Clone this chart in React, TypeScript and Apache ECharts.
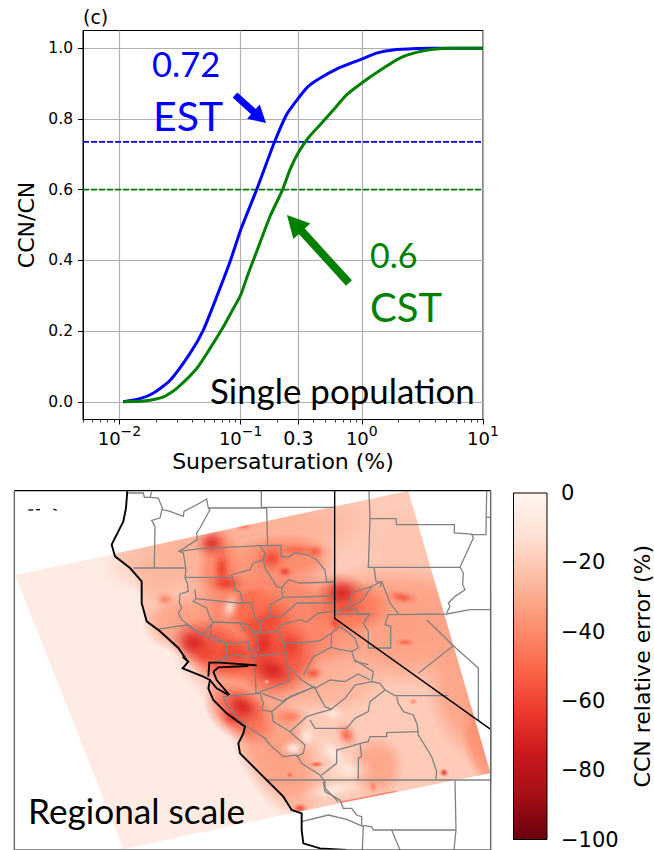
import React, { useEffect, useRef } from "react";
import * as echarts from "echarts";

// ---------- top panel data ----------
const BLUE_X = [0.0107, 0.0148, 0.0191, 0.0262, 0.0382, 0.0492, 0.0634, 0.0817, 0.1, 0.1356, 0.1884, 0.239, 0.2985, 0.361, 0.451, 0.618, 0.993, 1.32, 1.81, 2.82, 3.87, 10];
const BLUE_Y = [0, 0.009, 0.025, 0.061, 0.137, 0.203, 0.297, 0.396, 0.486, 0.6, 0.731, 0.812, 0.858, 0.892, 0.915, 0.941, 0.969, 0.986, 0.995, 0.999, 1, 1];
const GREEN_X = [0.0107, 0.0158, 0.0231, 0.0297, 0.0434, 0.0559, 0.072, 0.0843, 0.1, 0.1156, 0.1356, 0.1746, 0.222, 0.255, 0.2985, 0.361, 0.451, 0.581, 0.748, 0.993, 1.5, 2.06, 2.82, 3.87, 5.66, 10];
const GREEN_Y = [0, 0.002, 0.014, 0.038, 0.094, 0.151, 0.212, 0.255, 0.302, 0.363, 0.425, 0.524, 0.6, 0.656, 0.704, 0.746, 0.783, 0.825, 0.868, 0.901, 0.943, 0.972, 0.988, 0.997, 1, 1];
const BLUE_REF = 0.735;
const GREEN_REF = 0.6;
const X_MIN = 0.005;
const X_MAX = 10;
const X_MAJOR = [0.01, 0.1, 0.3, 1, 10];
const X_LABELS: Record<string, string> = { "0.01": "{b|10}{s|−2}", "0.1": "{b|10}{s|−1}", "0.3": "{t|0.3}", "1": "{b|10}{s|0}", "10": "{b|10}{s|1}" };
const X_MINOR = [0.005, 0.006, 0.007, 0.008, 0.009, 0.02, 0.03, 0.04, 0.05, 0.06, 0.07, 0.08, 0.09, 0.2, 0.4, 0.5, 0.6, 0.7, 0.8, 0.9, 2, 3, 4, 5, 6, 7, 8, 9];
const Y_TICKS = [0, 0.2, 0.4, 0.6, 0.8, 1];

// ---------- colour scale ----------
const REDS = ["#fff5f0", "#fee0d2", "#fcbba1", "#fc9272", "#fb6a4a", "#ef3b2c", "#cb181d", "#a50f15", "#67000d"];

// ---------- map data (map units) ----------
const MAP_X = [43, 1472];
const MAP_Y = [32, 1110];
const SWATH = [[45, 285], [1225, 33], [1472, 880], [890, 997], [370, 1108]];
const LAND = [[340, 205], [1225, 33], [1472, 880], [890, 997], [875, 990], [850, 950], [780, 880], [720, 820], [715, 790], [735, 740], [680, 700], [640, 660], [625, 625], [630, 600], [610, 590], [560, 545], [535, 504], [480, 454], [440, 424], [425, 369], [425, 304], [390, 264], [345, 229]];
const MASKS = [
  [[43, 32], [1225, 32], [45, 285], [43, 285]],
  [[1225, 32], [1472, 32], [1472, 880]],
  [[1472, 880], [1472, 1110], [370, 1110], [370, 1108], [890, 997]],
  [[43, 285], [45, 285], [370, 1108], [370, 1110], [43, 1110]],
];
// x, y, radius x, radius y, rotation, value
const BROAD = [
  [720, 190, 430, 130, 12, -30], [1210, 430, 320, 200, 0, -36], [1400, 650, 120, 210, 15, -34], [800, 450, 300, 270, 0, -48],
  [1450, 800, 60, 140, 16, -40], [830, 810, 120, 230, 25, -36], [1130, 860, 85, 95, 0, -34], [1000, 610, 160, 90, 0, -28],
  [540, 430, 115, 90, 0, -34], [480, 300, 80, 80, 0, -26], [1250, 190, 190, 120, 0, -22],
  [860, 230, 160, 70, 0, -42], [660, 260, 70, 120, 0, -42], [1050, 380, 130, 85, 0, -48], [720, 700, 125, 80, -35, -52],
  [650, 510, 135, 80, -30, -56], [830, 530, 125, 125, 0, -58], [780, 400, 120, 80, -20, -50],
];
const SPOTS = [
  [635, 190, 55, 50, 0, -68], [730, 135, 30, 20, 0, -52], [665, 265, 32, 70, 0, -62], [680, 310, 60, 34, 0, -64],
  [815, 235, 46, 46, 0, -60], [855, 275, 26, 18, 0, -62], [890, 210, 66, 20, 0, -52], [945, 215, 34, 24, 0, -54],
  [1025, 340, 76, 64, 0, -72], [1040, 385, 60, 28, 0, -58], [1005, 430, 22, 28, 0, -58], [1205, 352, 54, 22, -10, -56],
  [1215, 487, 32, 12, 0, -54], [495, 358, 32, 24, 0, -44], [580, 490, 72, 58, -20, -72], [620, 520, 54, 38, 0, -60],
  [700, 520, 80, 52, 0, -60], [790, 490, 52, 80, 0, -68], [870, 500, 46, 54, 0, -62], [815, 570, 74, 46, -20, -72],
  [690, 560, 92, 30, 0, -54], [940, 580, 32, 24, 15, -58], [725, 680, 72, 52, -25, -72], [700, 715, 48, 30, -20, -64],
  [760, 440, 54, 54, 0, -58], [810, 420, 64, 52, 0, -60], [730, 390, 40, 24, 0, -50], [760, 345, 32, 22, 0, -50],
  [870, 710, 60, 32, 0, -46], [1040, 765, 32, 44, 30, -52], [950, 853, 26, 11, 0, -56], [870, 885, 10, 10, 0, -56],
  [1332, 878, 16, 14, -30, -70], [1240, 665, 14, 10, 0, -44], [900, 985, 26, 18, 0, -62], [1120, 920, 14, 20, 0, -44],
];
const PALE_SPOTS = [
  [690, 380, 30, 50, -15, -10], [880, 805, 40, 30, 0, -2], [920, 770, 34, 40, 0, -4], [1000, 820, 70, 36, -50, -4],
  [1045, 870, 84, 46, 0, -7], [1000, 930, 110, 30, 10, -5], [1000, 700, 40, 26, 0, -8], [800, 605, 10, 8, 0, -20],
];
const EDGE_STREAK = [[1020, 967], [1190, 934]];
const FRAGMENTS = [
  [[85, 90], [100, 90]],
  [[108, 89], [120, 89]],
  [[160, 87], [170, 91]],
];
const COAST = [
  [[382, 32], [378, 84], [370, 124], [355, 154], [335, 194], [345, 229], [390, 264], [425, 304], [425, 369], [440, 424], [480, 454], [535, 504], [560, 540], [548, 530], [565, 545], [548, 565], [610, 590], [630, 600], [625, 625], [640, 660], [680, 700], [735, 740], [730, 760], [715, 790], [720, 820], [780, 880], [850, 950], [875, 990], [905, 1000], [905, 1050], [910, 1090], [960, 1105], [1040, 1110]],
  [[625, 590], [628, 548], [660, 548], [770, 556]],
  [[640, 575], [655, 562], [745, 558]],
  [[640, 575], [650, 600], [688, 645]],
  [[630, 600], [650, 625], [685, 645]],
];
const STATE_LINE = [[1004, 32], [1004, 415], [1472, 748]];
const COUNTIES = [
  [[385, 39], [430, 39], [433, 52], [450, 52], [455, 36]],
  [[450, 52], [475, 54], [487, 84], [480, 114], [455, 121], [465, 139], [463, 264]],
  [[487, 89], [510, 94], [550, 109], [552, 94], [600, 69], [620, 57], [625, 84], [630, 89], [600, 144], [590, 159], [592, 179], [537, 214], [550, 219], [558, 269], [555, 294], [562, 309], [565, 334], [540, 342], [538, 369], [545, 384], [535, 399], [545, 419], [565, 434], [595, 459], [605, 464], [635, 432], [640, 426], [720, 429], [735, 454]],
  [[400, 264], [555, 264]],
  [[625, 84], [800, 84], [803, 196]],
  [[784, 32], [784, 82], [1003, 82]],
  [[537, 214], [600, 206], [675, 202], [780, 197], [843, 196], [843, 229], [865, 232], [885, 218], [925, 225], [950, 240], [975, 270], [980, 305], [1003, 308]],
  [[780, 197], [795, 219], [790, 239], [760, 249], [750, 269], [695, 284], [700, 299], [705, 329], [720, 336], [730, 369], [715, 369], [588, 356], [585, 329]],
  [[790, 239], [795, 264], [830, 319], [845, 324], [848, 350]],
  [[558, 292], [695, 292]],
  [[715, 369], [755, 369], [765, 414], [780, 424], [780, 454], [760, 456], [740, 434], [720, 429]],
  [[588, 356], [580, 364], [620, 384], [630, 414], [640, 427]],
  [[810, 374], [810, 409], [780, 424]],
  [[810, 374], [850, 352], [1003, 348]],
  [[845, 324], [865, 299], [900, 309], [1003, 306]],
  [[810, 409], [845, 409], [890, 369], [1005, 369]],
  [[835, 454], [845, 434], [900, 419], [920, 426], [955, 399], [1005, 394]],
  [[760, 459], [835, 454], [850, 489], [900, 489], [960, 482], [995, 459], [1020, 439]],
  [[470, 448], [560, 435], [600, 460], [640, 480], [680, 490], [680, 520], [670, 540], [625, 548]],
  [[680, 490], [745, 485], [745, 510], [775, 510], [770, 480], [760, 459]],
  [[635, 432], [632, 465], [680, 490]],
  [[670, 540], [700, 525], [745, 530], [850, 520]],
  [[767, 510], [765, 556], [768, 640], [790, 632], [865, 605], [860, 520], [850, 489]],
  [[860, 555], [905, 600], [945, 625], [975, 680], [995, 688]],
  [[670, 650], [780, 640], [790, 670], [785, 690], [815, 695], [820, 725], [870, 755], [915, 795], [910, 820], [890, 830]],
  [[672, 655], [680, 675], [735, 735], [795, 775], [810, 795], [850, 830], [890, 825], [905, 850], [960, 885], [975, 905], [975, 925], [1015, 965]],
  [[785, 640], [850, 665], [855, 658], [945, 620]],
  [[815, 695], [870, 650], [945, 620]],
  [[870, 755], [920, 710], [950, 700], [995, 688]],
  [[930, 720], [945, 745], [990, 745], [1040, 745], [1065, 715], [1105, 695], [1110, 665], [1155, 630]],
  [[990, 690], [1035, 655], [1065, 615], [1115, 605]],
  [[945, 625], [990, 600], [1035, 605], [1075, 582], [1110, 600]],
  [[1065, 540], [1120, 575], [1115, 605], [1140, 610], [1155, 630], [1185, 647], [1345, 647]],
  [[1190, 650], [1195, 670], [1210, 695], [1240, 705], [1252, 735], [1255, 765], [1280, 805], [1295, 830], [1310, 875], [1308, 898]],
  [[1255, 755], [1160, 758], [1160, 770], [1110, 770], [1105, 785], [1080, 790], [1050, 800], [1010, 810], [1010, 850], [965, 885]],
  [[1080, 790], [1085, 830], [1075, 835], [1075, 900]],
  [[800, 900], [1472, 900]],
  [[1365, 902], [1368, 1050], [1362, 1110]],
  [[1368, 1050], [1175, 1050], [1200, 1110]],
  [[1175, 1050], [1120, 1050], [1115, 1040], [1090, 1037], [1087, 1110]],
  [[970, 905], [975, 935], [1020, 960], [1030, 985], [1055, 985], [1070, 1005], [1085, 1010], [1085, 1035]],
  [[905, 1025], [985, 1005], [1040, 1018], [1090, 1040]],
  [[1107, 34], [1110, 116], [1188, 116], [1190, 134], [1363, 134], [1363, 159], [1415, 162], [1420, 174], [1380, 262], [1390, 279], [1388, 314], [1395, 329], [1365, 349], [1345, 369], [1350, 379], [1340, 399]],
  [[1460, 34], [1458, 164], [1415, 164]],
  [[1460, 112], [1470, 112]],
  [[1110, 116], [1105, 262], [1380, 262]],
  [[1122, 262], [1128, 304], [1145, 309], [1140, 322]],
  [[1145, 304], [1170, 369], [1195, 401]],
  [[1145, 304], [1115, 319], [1055, 339], [1050, 369]],
  [[1115, 319], [1085, 364], [1050, 379], [1005, 394]],
  [[1045, 386], [1070, 386], [1072, 402], [1110, 402], [1090, 429], [1105, 454], [1105, 504], [1172, 504], [1172, 439], [1155, 434], [1165, 404], [1340, 402], [1410, 389], [1473, 389]],
  [[1005, 402], [1110, 402]],
  [[1280, 419], [1360, 497], [1435, 564], [1435, 720]],
  [[1360, 497], [1255, 580]],
  [[995, 459], [993, 502], [1020, 509], [1055, 514], [1065, 544], [1105, 554]],
  [[1020, 439], [1065, 474], [1075, 504], [1055, 514]],
  [[910, 585], [940, 530], [993, 502]],
];

// ---------- colour bar ----------
const CB_MIN = -100;
const CB_MAX = 0;
const CB_STEP = 20;

const hexToRgb = (h: string) => [1, 3, 5].map((i) => parseInt(h.slice(i, i + 2), 16));
const redsAt = (v: number) => {
  const t = Math.min(1, Math.max(0, -v / 100)) * (REDS.length - 1);
  const i = Math.min(REDS.length - 2, Math.floor(t));
  const a = hexToRgb(REDS[i]);
  const b = hexToRgb(REDS[i + 1]);
  return a.map((c, k) => Math.round(c + (b[k] - c) * (t - i)));
};

const polygonSeries = (points: number[][], fill: string, z: number) => ({
  type: "custom",
  xAxisIndex: 2,
  yAxisIndex: 1,
  z,
  clip: true,
  silent: true,
  data: [points[0]],
  renderItem: (_p: any, api: any) => ({
    type: "polygon",
    shape: { points: points.map((q) => api.coord(q)) },
    style: { fill },
  }),
});

// soft ellipses: alpha profile [offset, alpha]
const PLATEAU = [[0, 0.85], [0.55, 0.7], [0.8, 0.3], [1, 0]];
const SOFT = [[0, 0.9], [0.3, 0.65], [0.6, 0.25], [1, 0]];
const blobSeries = (rows: number[][], profile: number[][], z: number) => ({
  type: "custom",
  xAxisIndex: 2,
  yAxisIndex: 1,
  z,
  clip: true,
  silent: true,
  data: rows,
  dimensions: ["x", "y", "rx", "ry", "rot", "val"],
  encode: { x: 0, y: 1 },
  renderItem: (_p: any, api: any) => {
    const c = api.coord([api.value(0), api.value(1)]);
    const s = api.size([api.value(2), api.value(3)]);
    const [r, g, b] = redsAt(api.value(5));
    return {
      type: "circle",
      x: c[0],
      y: c[1],
      scaleX: s[0],
      scaleY: s[1],
      rotation: (api.value(4) * Math.PI) / 180,
      shape: { cx: 0, cy: 0, r: 1 },
      style: {
        fill: {
          type: "radial", x: 0.5, y: 0.5, r: 0.5,
          colorStops: profile.map(([offset, alpha]) => ({ offset, color: `rgba(${r},${g},${b},${alpha})` })),
        },
      },
    };
  },
});

const arrow = (tail: number[], tip: number[], tw: number, hw: number, hl: number) => {
  const dx = tip[0] - tail[0];
  const dy = tip[1] - tail[1];
  const L = Math.hypot(dx, dy);
  const ux = dx / L, uy = dy / L, nx = -uy, ny = ux;
  const bx = tip[0] - ux * hl, by = tip[1] - uy * hl;
  return [
    [tail[0] + (nx * tw) / 2, tail[1] + (ny * tw) / 2],
    [bx + (nx * tw) / 2, by + (ny * tw) / 2],
    [bx + (nx * hw) / 2, by + (ny * hw) / 2],
    tip,
    [bx - (nx * hw) / 2, by - (ny * hw) / 2],
    [bx - (nx * tw) / 2, by - (ny * tw) / 2],
    [tail[0] - (nx * tw) / 2, tail[1] - (ny * tw) / 2],
  ];
};

const DJ = "DejaVu Sans";
const LATO = "Lato";
const note = (text: string, x: number, y: number, size: number, fill: string) => ({
  type: "text",
  x,
  y,
  z: 100,
  silent: true,
  style: { text, fill, fontFamily: LATO, fontSize: size, textAlign: "left", textVerticalAlign: "middle" },
});

export default function App() {
  const ref = useRef<HTMLDivElement>(null);
  useEffect(() => {
    document.body.style.margin = "0";
    const chart = echarts.init(ref.current!, undefined, { renderer: "svg" });
    const lineSeries = (xs: number[], ys: number[], color: string) => ({
      type: "line",
      xAxisIndex: 0,
      yAxisIndex: 0,
      data: xs.map((x, i) => [x, ys[i]]),
      showSymbol: false,
      smooth: 0.2,
      lineStyle: { color, width: 3 },
      z: 5,
    });
    const refSeries = (y: number, color: string) => ({
      type: "line",
      xAxisIndex: 0,
      yAxisIndex: 0,
      data: [[X_MIN, y], [X_MAX, y]],
      showSymbol: false,
      lineStyle: { color, width: 1.8, type: [6, 2] },
      z: 4,
    });
    const linesSeries = (polys: number[][][], color: string, width: number, z: number, clip = true) => ({
      type: "lines",
      coordinateSystem: "cartesian2d",
      xAxisIndex: 2,
      yAxisIndex: 1,
      polyline: true,
      clip,
      silent: true,
      z,
      data: polys.map((coords) => ({ coords })),
      lineStyle: { color, width, opacity: 1, curveness: 0 },
    });
    chart.setOption({
      animation: false,
      backgroundColor: "#fff",
      textStyle: { fontFamily: DJ },
      grid: [
        { left: 83, top: 30.5, width: 400, height: 389, show: true, borderColor: "#000", borderWidth: 1, backgroundColor: "transparent", containLabel: false },
        { left: 14.33, top: 490.67, width: 476.33, height: 359.33, containLabel: false },
        { left: 513.5, top: 493, width: 38, height: 351, containLabel: false },
      ],
      xAxis: [
        {
          type: "log", gridIndex: 0, min: X_MIN, max: X_MAX, logBase: 10,
          name: "Supersaturation (%)", nameLocation: "middle", nameGap: 31,
          nameTextStyle: { fontSize: 22, color: "#000", fontFamily: DJ },
          axisLine: { show: true, onZero: false, lineStyle: { color: "#000" } },
          axisTick: { show: true, length: 5, customValues: X_MAJOR, lineStyle: { color: "#000" } },
          axisLabel: {
            show: true, color: "#000", fontFamily: DJ, margin: 4, hideOverlap: false, showMinLabel: true, showMaxLabel: true,
            customValues: X_MAJOR,
            formatter: (v: number) => X_LABELS[String(+(+v).toPrecision(3))] ?? "",
            rich: {
              b: { fontSize: 18, lineHeight: 24, verticalAlign: "bottom", fontFamily: DJ, color: "#000" },
              s: { fontSize: 14, lineHeight: 24, verticalAlign: "top", fontFamily: DJ, color: "#000" },
              t: { fontSize: 19, lineHeight: 24, verticalAlign: "bottom", fontFamily: DJ, color: "#000" },
            },
          },
          splitLine: { show: true, lineStyle: { color: "#b0b0b0", width: 1.2 } },
        },
        {
          type: "log", gridIndex: 0, min: X_MIN, max: X_MAX, logBase: 10, position: "bottom",
          axisLine: { show: false, onZero: false },
          axisTick: { show: true, length: 3, customValues: X_MINOR, lineStyle: { color: "#000", width: 0.8 } },
          axisLabel: { show: false },
          splitLine: { show: false },
        },
        { type: "value", gridIndex: 1, min: MAP_X[0], max: MAP_X[1], show: false, splitLine: { show: false } },
        { type: "value", gridIndex: 2, min: 0, max: 1, show: false, splitLine: { show: false } },
      ],
      yAxis: [
        {
          type: "value", gridIndex: 0, min: -0.05, max: 1.05,
          name: "CCN/CN", nameLocation: "middle", nameGap: 42, nameRotate: 90,
          nameTextStyle: { fontSize: 22, color: "#000", fontFamily: DJ },
          axisLine: { show: true, onZero: false, lineStyle: { color: "#000" } },
          axisTick: { show: true, length: 5, customValues: Y_TICKS, lineStyle: { color: "#000" } },
          axisLabel: {
            show: true, fontSize: 15.5, color: "#000", fontFamily: DJ, margin: 10, customValues: Y_TICKS,
            formatter: (v: number) => (+v).toFixed(1),
          },
          splitLine: { show: true, lineStyle: { color: "#b0b0b0", width: 1.2 } },
        },
        { type: "value", gridIndex: 1, min: MAP_Y[0], max: MAP_Y[1], inverse: true, show: false, splitLine: { show: false } },
        {
          type: "value", gridIndex: 2, min: CB_MIN, max: CB_MAX, interval: CB_STEP, position: "right",
          name: "CCN relative error (%)", nameLocation: "middle", nameGap: 84, nameRotate: 90,
          nameTextStyle: { fontSize: 22, color: "#000", fontFamily: DJ },
          axisLine: { show: true, lineStyle: { color: "#000" } },
          axisTick: { show: true, length: 6, lineStyle: { color: "#000" } },
          axisLabel: {
            fontSize: 21, color: "#000", fontFamily: DJ, margin: 14,
            formatter: (v: number) => String(v).replace("-", "−"),
          },
          splitLine: { show: false },
        },
      ],
      series: [
        refSeries(BLUE_REF, "#0000ff"),
        refSeries(GREEN_REF, "#008000"),
        lineSeries(BLUE_X, BLUE_Y, "#0000ff"),
        lineSeries(GREEN_X, GREEN_Y, "#008000"),
        // map
        polygonSeries(SWATH, "#feebe4", 1),
        polygonSeries(LAND, "#fdcbb8", 2),
        blobSeries(BROAD, PLATEAU, 3),
        blobSeries(SPOTS, SOFT, 3),
        blobSeries(PALE_SPOTS, SOFT, 3),
        linesSeries([EDGE_STREAK], "#f9886a", 1.5, 4),
        ...MASKS.map((m) => polygonSeries(m, "#ffffff", 5)),
        linesSeries(COUNTIES, "#808080", 1.3, 6),
        linesSeries(COAST, "#000000", 1.9, 7),
        linesSeries([STATE_LINE], "#000000", 1.4, 7),
        linesSeries(FRAGMENTS, "#000000", 1.3, 7),
        linesSeries([[[MAP_X[0], MAP_Y[0]], [MAP_X[1], MAP_Y[0]]]], "#000000", 1.2, 8, false),
        linesSeries([[[MAP_X[0], MAP_Y[0]], [MAP_X[0], MAP_Y[1]]], [[MAP_X[1], MAP_Y[0]], [MAP_X[1], MAP_Y[1]]], [[MAP_X[0], MAP_Y[1]], [MAP_X[1], MAP_Y[1]]]], "#666666", 1.4, 8, false),
        // colour bar
        {
          type: "custom",
          xAxisIndex: 3,
          yAxisIndex: 2,
          z: 2,
          silent: true,
          data: [[0, CB_MAX]],
          renderItem: (_p: any, api: any) => {
            const a = api.coord([0, CB_MAX]);
            const b = api.coord([1, CB_MIN]);
            return {
              type: "rect",
              shape: { x: a[0], y: a[1], width: b[0] - a[0], height: b[1] - a[1] },
              style: {
                stroke: "#000",
                lineWidth: 1,
                fill: {
                  type: "linear", x: 0, y: 0, x2: 0, y2: 1,
                  colorStops: REDS.map((color, i) => ({ offset: i / (REDS.length - 1), color })),
                },
              },
            };
          },
        },
      ],
      graphic: [
        { type: "text", x: 83, y: 17, z: 100, silent: true, style: { text: "(c)", fill: "#000", fontFamily: DJ, fontSize: 19, textAlign: "left", textVerticalAlign: "middle" } },
        note("0.72", 152, 63, 34.5, "#0000ff"),
        note("EST", 153, 115, 41, "#0000ff"),
        note("0.6", 370, 254, 34, "#008000"),
        note("CST", 370, 307, 40, "#008000"),
        note("Single population", 210, 390, 34.9, "#000"),
        note("Regional scale", 28, 810, 35.2, "#000"),
        { type: "polygon", z: 100, silent: true, shape: { points: arrow([235, 95], [266, 123], 7, 19, 17) }, style: { fill: "#0000ff" } },
        { type: "polygon", z: 100, silent: true, shape: { points: arrow([349, 283], [287, 215], 8, 23, 22) }, style: { fill: "#008000" } },
      ],
    });
    return () => chart.dispose();
  }, []);
  return <div ref={ref} style={{ position: "fixed", left: 0, top: 0, width: 654, height: 850 }} />;
}
